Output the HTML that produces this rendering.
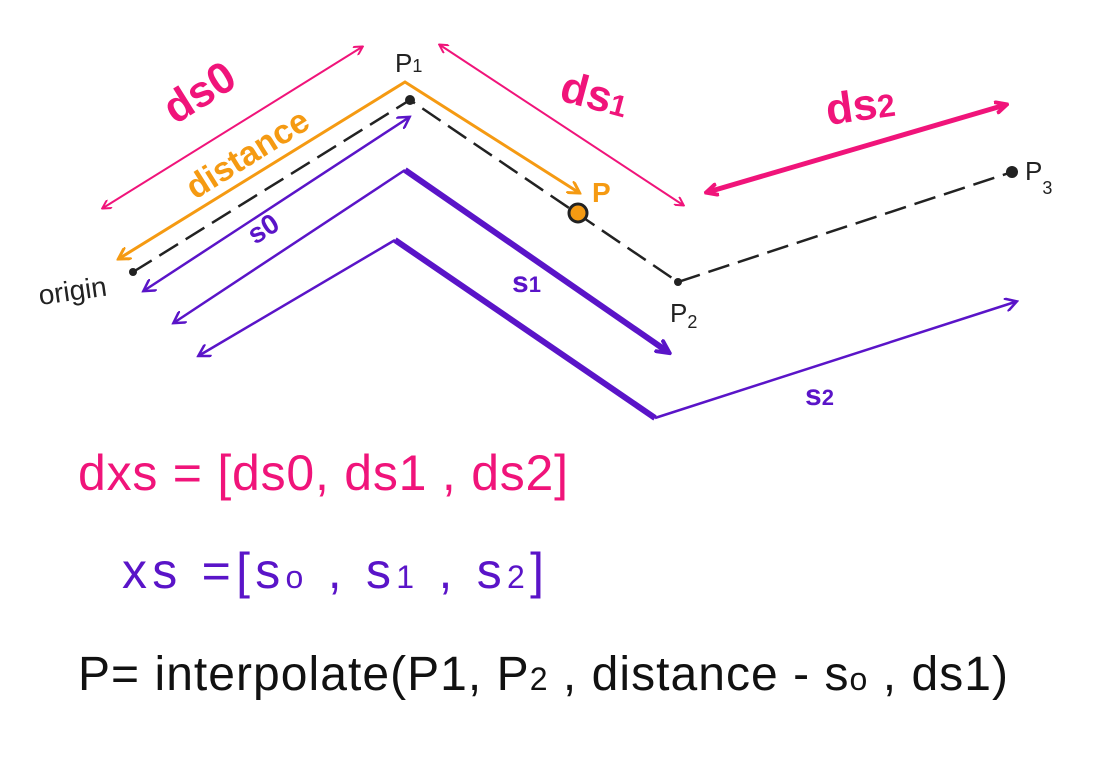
<!DOCTYPE html>
<html><head><meta charset="utf-8"><style>
html,body{margin:0;padding:0;background:#fff;}
svg{display:block}
text{font-family:"Liberation Sans",sans-serif;}
</style></head><body>
<svg width="1109" height="772" viewBox="0 0 1109 772" xmlns="http://www.w3.org/2000/svg">
<defs>
<marker id="ap" markerWidth="10" markerHeight="10" refX="8" refY="5" orient="auto-start-reverse" markerUnits="userSpaceOnUse"><path d="M0,0 L9,5 L0,10" fill="none" stroke="#f0147a" stroke-width="2"/></marker>
<marker id="ap2" markerWidth="14" markerHeight="14" refX="10" refY="7" orient="auto-start-reverse" markerUnits="userSpaceOnUse"><path d="M0,1 L12,7 L0,13" fill="none" stroke="#f0147a" stroke-width="4"/></marker>
<marker id="au" markerWidth="14" markerHeight="14" refX="10" refY="7" orient="auto-start-reverse" markerUnits="userSpaceOnUse"><path d="M0,0 L12,7 L0,14" fill="none" stroke="#5a14c8" stroke-width="2.5"/></marker>
<marker id="au2" markerWidth="16" markerHeight="16" refX="12" refY="8" orient="auto" markerUnits="userSpaceOnUse"><path d="M0,1 L14,8 L0,15" fill="none" stroke="#5a14c8" stroke-width="4"/></marker>
<marker id="ao" markerWidth="14" markerHeight="14" refX="10" refY="7" orient="auto-start-reverse" markerUnits="userSpaceOnUse"><path d="M0,0 L12,7 L0,14" fill="none" stroke="#f59a12" stroke-width="3"/></marker>
</defs>
<polyline points="133,272 410,100 678,282 1012,172" fill="none" stroke="#222" stroke-width="2.5" stroke-dasharray="22,9"/>
<circle cx="133" cy="272" r="4" fill="#222"/><circle cx="410" cy="100" r="5" fill="#222"/><circle cx="678" cy="282" r="4" fill="#222"/><circle cx="1012" cy="172" r="6" fill="#222"/>
<polyline points="120,258 405,82 578,192" fill="none" stroke="#f59a12" stroke-width="3" marker-start="url(#ao)" marker-end="url(#ao)"/>
<circle cx="578" cy="213" r="9" fill="#f59a12" stroke="#222" stroke-width="3"/>
<line x1="103" y1="208" x2="362" y2="47" stroke="#f0147a" stroke-width="2" marker-start="url(#ap)" marker-end="url(#ap)"/>
<line x1="440" y1="45" x2="683" y2="205" stroke="#f0147a" stroke-width="2" marker-start="url(#ap)" marker-end="url(#ap)"/>
<line x1="708" y1="192" x2="1005" y2="105" stroke="#f0147a" stroke-width="5" marker-start="url(#ap2)" marker-end="url(#ap2)"/>
<line x1="145" y1="290" x2="408" y2="118" stroke="#5a14c8" stroke-width="2.5" marker-start="url(#au)" marker-end="url(#au)"/>
<line x1="175" y1="322" x2="405" y2="170" stroke="#5a14c8" stroke-width="2.5" marker-start="url(#au)"/>
<line x1="405" y1="170" x2="668" y2="352" stroke="#5a14c8" stroke-width="6" marker-end="url(#au2)"/>
<line x1="200" y1="355" x2="395" y2="240" stroke="#5a14c8" stroke-width="2.5" marker-start="url(#au)"/>
<line x1="395" y1="240" x2="655" y2="418" stroke="#5a14c8" stroke-width="6"/>
<line x1="655" y1="418" x2="1015" y2="302" stroke="#5a14c8" stroke-width="2.5" marker-end="url(#au)"/>
<text x="395" y="72" font-size="26" fill="#222">P<tspan font-size="18">1</tspan></text>
<text x="670" y="322" font-size="26" fill="#222">P<tspan font-size="18" dy="6">2</tspan></text>
<text x="1025" y="180" font-size="26" fill="#222">P<tspan font-size="18" dy="14">3</tspan></text>
<text x="592" y="202" font-size="28" font-weight="bold" fill="#f59a12">P</text>
<text x="40" y="305" font-size="28" fill="#222" transform="rotate(-8 40 305)">origin</text>
<text x="175" y="125" font-size="44" font-weight="bold" fill="#f0147a" transform="rotate(-32 175 125)">ds0</text>
<text x="195" y="200" font-size="34" font-weight="bold" fill="#f59a12" transform="rotate(-32 195 200)">distance</text>
<text x="255" y="245" font-size="28" font-weight="bold" fill="#5a14c8" transform="rotate(-32 255 245)">s0</text>
<text x="558" y="100" font-size="44" font-weight="bold" fill="#f0147a" transform="rotate(15 558 100)">ds<tspan font-size="30">1</tspan></text>
<text x="828" y="125" font-size="44" font-weight="bold" fill="#f0147a" transform="rotate(-8 828 125)">ds<tspan font-size="32">2</tspan></text>
<text x="512" y="292" font-size="30" font-weight="bold" fill="#5a14c8">s<tspan font-size="22">1</tspan></text>
<text x="805" y="405" font-size="30" font-weight="bold" fill="#5a14c8">s<tspan font-size="22">2</tspan></text>
<text x="78" y="490" font-size="50" fill="#f0147a" textLength="490" lengthAdjust="spacing">dxs = [ds0, ds1 , ds2]</text>
<text x="122" y="588" font-size="50" fill="#5a14c8" textLength="422" lengthAdjust="spacing">xs =[s<tspan font-size="32">o</tspan> , s<tspan font-size="32">1</tspan>  , s<tspan font-size="32">2</tspan>]</text>
<text x="78" y="690" font-size="48" fill="#111" textLength="930" lengthAdjust="spacing">P= interpolate(P1, P<tspan font-size="32">2</tspan> , distance - s<tspan font-size="32">o</tspan>  , ds1)</text>
</svg>
</body></html>
